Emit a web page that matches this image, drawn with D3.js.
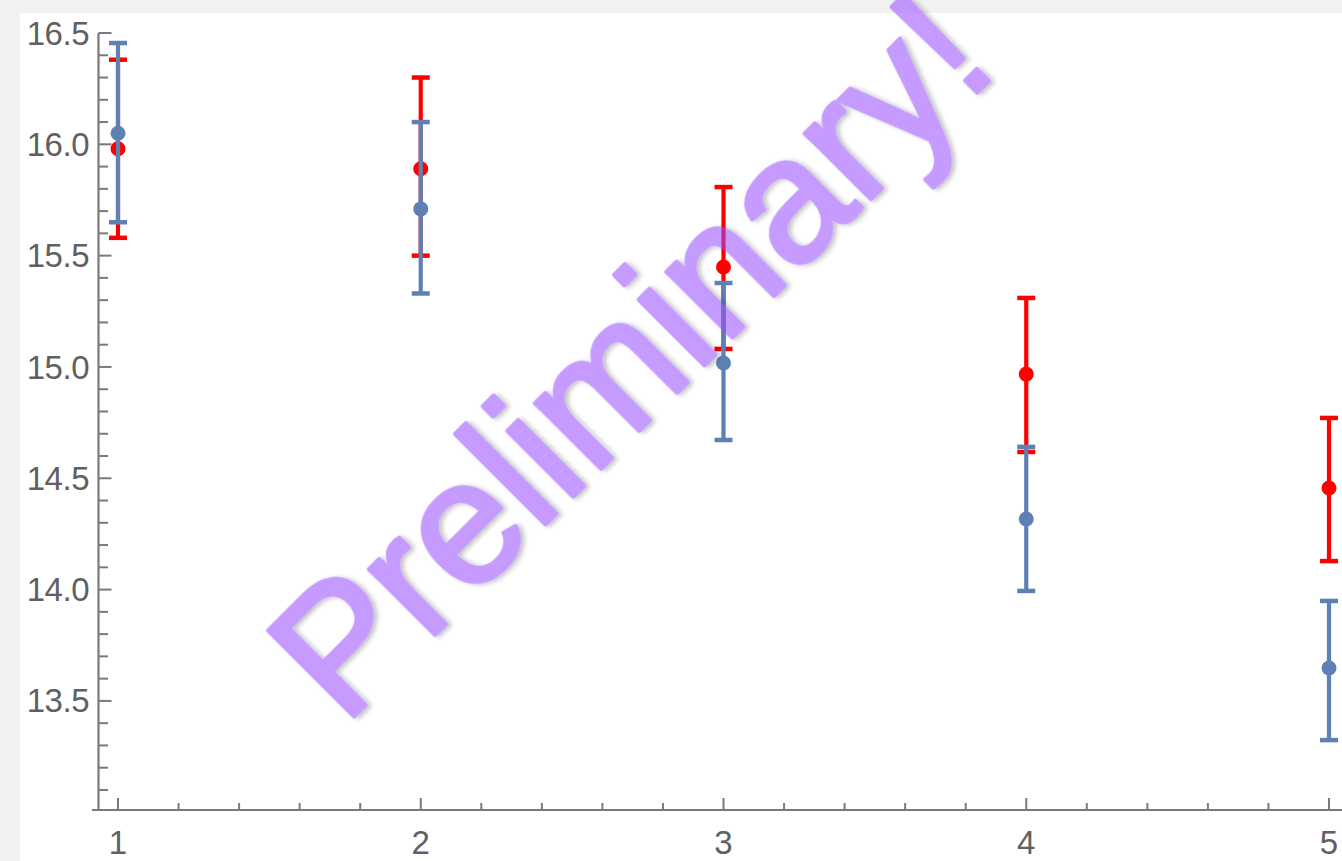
<!DOCTYPE html>
<html>
<head>
<meta charset="utf-8">
<script src="https://cdn.jsdelivr.net/npm/d3@7"></script>
<style>
  html, body { margin: 0; padding: 0; background: #f2f2f2; }
  svg { display: block; }
</style>
</head>
<body>
<svg id="chart" width="1342" height="861"></svg>
<script>
// ---- data ----
const xs = [1, 2, 3, 4, 5];
const redMean  = [15.98, 15.89, 15.449, 14.968, 14.456];
const redLow   = [15.58, 15.50, 15.081, 14.618, 14.128];
const redHigh  = [16.38, 16.30, 15.808, 15.310, 14.771];
const blueMean = [16.05, 15.71, 15.018, 14.317, 13.648];
const blueLow  = [15.65, 15.33, 14.672, 13.994, 13.324];
const blueHigh = [16.455, 16.10, 15.377, 14.641, 13.949];
const xTickLabels = ["1", "2", "3", "4", "5"];
const yTickValues = [13.5, 14.0, 14.5, 15.0, 15.5, 16.0, 16.5];
const watermarkText = "Preliminary!";

const svg = d3.select("#chart");
const W = 1342, H = 861;

// background panel
svg.append("rect").attr("x", 0).attr("y", 0).attr("width", W).attr("height", H).attr("fill", "#f2f2f2");
svg.append("rect").attr("x", 20).attr("y", 13).attr("width", W - 20).attr("height", H - 13).attr("fill", "#ffffff");

const x = d3.scaleLinear().domain([1, 5]).range([118, 1329]);
const y = d3.scaleLinear().domain([13.01, 16.5]).range([810, 33]);

const axisColor = "#7a7a7a";
const labelColor = "#606060";
const axisX0 = 98.5, axisY0 = 810;

const g = svg.append("g");

// y axis line
g.append("line").attr("x1", axisX0).attr("x2", axisX0).attr("y1", y(16.5)).attr("y2", axisY0)
  .attr("stroke", axisColor).attr("stroke-width", 2.2);
// x axis line
g.append("line").attr("x1", 92).attr("x2", W).attr("y1", axisY0).attr("y2", axisY0)
  .attr("stroke", axisColor).attr("stroke-width", 2.2);

// y ticks
const yMinor = d3.range(131, 166).map(v => v / 10).filter(v => Math.round(v * 10) % 5 !== 0);
g.selectAll(".ymin").data(yMinor).enter().append("line")
  .attr("x1", axisX0).attr("x2", axisX0 + 9.5)
  .attr("y1", d => y(d)).attr("y2", d => y(d))
  .attr("stroke", axisColor).attr("stroke-width", 2);
g.selectAll(".ymaj").data(yTickValues).enter().append("line")
  .attr("x1", axisX0).attr("x2", axisX0 + 13)
  .attr("y1", d => y(d)).attr("y2", d => y(d))
  .attr("stroke", axisColor).attr("stroke-width", 2);
g.selectAll(".ylab").data(yTickValues).enter().append("text")
  .attr("x", 89).attr("y", d => y(d)).attr("dy", "0.35em")
  .attr("text-anchor", "end")
  .attr("font-family", "Liberation Sans, Arial, sans-serif")
  .attr("font-size", 33).attr("fill", labelColor)
  .attr("letter-spacing", "-0.5")
  .text(d => d3.format(".1f")(d));

// x ticks
const xMinor = d3.range(1, 5.01, 0.2).filter(v => Math.abs(v - Math.round(v)) > 0.01);
g.selectAll(".xmin").data(xMinor).enter().append("line")
  .attr("x1", d => x(d)).attr("x2", d => x(d))
  .attr("y1", axisY0).attr("y2", axisY0 - 7)
  .attr("stroke", axisColor).attr("stroke-width", 2);
g.selectAll(".xmaj").data(xs).enter().append("line")
  .attr("x1", d => x(d)).attr("x2", d => x(d))
  .attr("y1", axisY0).attr("y2", axisY0 - 12)
  .attr("stroke", axisColor).attr("stroke-width", 2);
g.selectAll(".xlab").data(xs).enter().append("text")
  .attr("x", d => x(d)).attr("y", 854)
  .attr("text-anchor", "middle")
  .attr("font-family", "Liberation Sans, Arial, sans-serif")
  .attr("font-size", 33).attr("fill", labelColor)
  .text((d, i) => xTickLabels[i]);

// series
function drawSeries(mean, low, high, color) {
  const s = svg.append("g");
  const data = xs.map((xv, i) => ({ x: xv, m: mean[i], lo: low[i], hi: high[i] }));
  s.selectAll(".bar").data(data).enter().append("line")
    .attr("x1", d => x(d.x)).attr("x2", d => x(d.x))
    .attr("y1", d => y(d.lo)).attr("y2", d => y(d.hi))
    .attr("stroke", color).attr("stroke-width", 4.2);
  ["lo", "hi"].forEach(k => {
    s.selectAll(".cap" + k).data(data).enter().append("line")
      .attr("x1", d => x(d.x) - 9).attr("x2", d => x(d.x) + 9)
      .attr("y1", d => y(d[k])).attr("y2", d => y(d[k]))
      .attr("stroke", color).attr("stroke-width", 4.5);
  });
  s.selectAll(".pt").data(data).enter().append("circle")
    .attr("cx", d => x(d.x)).attr("cy", d => y(d.m)).attr("r", 7.5)
    .attr("fill", color);
}
drawSeries(redMean, redLow, redHigh, "#ff0000");
drawSeries(blueMean, blueLow, blueHigh, "#5e81b5");

// watermark
const defs = svg.append("defs");
const f = defs.append("filter").attr("id", "shadow").attr("x", "-10%").attr("y", "-10%").attr("width", "120%").attr("height", "130%");
f.append("feDropShadow").attr("dx", 2).attr("dy", 3).attr("stdDeviation", 2.5)
  .attr("flood-color", "#000").attr("flood-opacity", 0.45);

svg.append("text")
  .attr("transform", "translate(672,398) rotate(-45)")
  .attr("text-anchor", "middle")
  .attr("font-family", "Liberation Sans, Arial, sans-serif")
  .attr("font-size", 176)
  .attr("fill", "rgb(150,75,255)")
  .attr("stroke", "rgb(150,75,255)")
  .attr("stroke-width", 4)
  .attr("stroke-linejoin", "round")
  .attr("opacity", 0.55)
  .attr("filter", "url(#shadow)")
  .text(watermarkText);
</script>
</body>
</html>
